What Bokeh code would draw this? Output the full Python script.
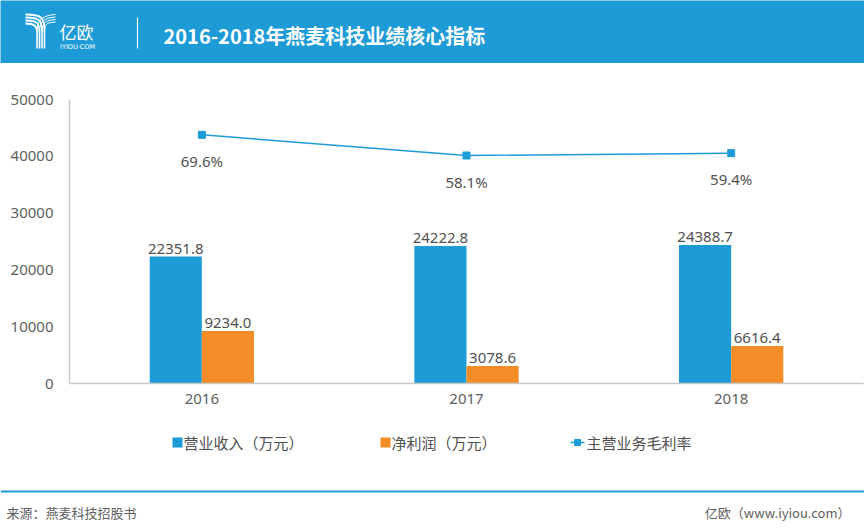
from bokeh.plotting import figure
from bokeh.models import Range1d, FactorRange, ColumnDataSource, FixedTicker, NumeralTickFormatter
from bokeh.layouts import column
from bokeh.transform import dodge
from bokeh.core.properties import value
from bokeh.embed import file_html
from bokeh.resources import INLINE

# ---------------- data ----------------
years = ["2016", "2017", "2018"]
revenue = [22351.8, 24222.8, 24388.7]        # 营业收入（万元）
net_profit = [9234.0, 3078.6, 6616.4]        # 净利润（万元）
gross_margin = [69.6, 58.1, 59.4]            # 主营业务毛利率 (%)
y_ticks = [0, 10000, 20000, 30000, 40000, 50000]
title_text = "2016-2018年燕麦科技业绩核心指标"
series_names = ["营业收入（万元）", "净利润（万元）", "主营业务毛利率"]
source_text = "来源：燕麦科技招股书"
brand_text = "亿欧（www.iyiou.com）"

# ---------------- style ----------------
BLUE = "#1d9bd7"
ORANGE = "#f48d27"
TXT = "#505050"
GREY = "#606060"
NUM_FONT = "Noto Sans"
CJK = "Noto Sans CJK SC"
W = 864


def blank(h, y_top, y_bottom, bg="white"):
    f = figure(width=W, height=h, x_range=Range1d(0, W), y_range=Range1d(y_bottom, y_top),
               output_backend="svg", toolbar_location=None, min_border=0,
               x_axis_type=None, y_axis_type=None, frame_align=False,
               background_fill_color=bg, border_fill_color=bg, outline_line_color=None)
    f.grid.visible = False
    return f


# ---------------- header ----------------
hdr = blank(63, 0, 63, bg=BLUE)
stems = [36.5, 39.0, 41.5, 44.0]
hdr.bezier(x0=[25] * 4, y0=[14 + 3 * i for i in range(4)],
           x1=[stems[3 - i] for i in range(4)], y1=[32] * 4,
           cx0=[stems[3 - i] - 2 for i in range(4)], cy0=[14 + 3 * i for i in range(4)],
           cx1=[stems[3 - i] for i in range(4)], cy1=[17 + 3 * i for i in range(4)],
           line_color="white", line_width=1.8)
hdr.bezier(x0=[55] * 4, y0=[14 + 2.5 * j for j in range(4)],
           x1=stems, y1=[32] * 4,
           cx0=[s + 3 for s in stems], cy0=[15 + 2.5 * j for j in range(4)],
           cx1=stems, cy1=[22] * 4,
           line_color="white", line_width=1.0)
hdr.segment(x0=stems, y0=[32] * 4, x1=stems, y1=[48] * 4, line_color="white", line_width=1.6)
hdr.text(x=[59], y=[31], text=["亿欧"], text_font=value(CJK), text_font_size="17px",
         text_color="white", text_baseline="middle", text_align="left")
hdr.text(x=[59.5], y=[46], text=["IYIOU·COM"], text_font=value("DejaVu Sans"),
         text_font_size="6.5px", text_color="white", text_baseline="middle", text_align="left")
hdr.segment(x0=[137], y0=[17], x1=[137], y1=[48], line_color="white", line_width=1.2)
hdr.text(x=[163], y=[35], text=[title_text], text_font=value(CJK), text_font_style="bold",
         text_font_size="20px", text_color="white", text_baseline="middle", text_align="left")

# ---------------- main chart ----------------
src = ColumnDataSource(dict(
    years=years, revenue=revenue, net_profit=net_profit, gm=gross_margin,
    rev_lbl=[f"{v:.1f}" for v in revenue],
    np_lbl=[f"{v:.1f}" for v in net_profit],
    gm_lbl=[f"{v:.1f}%" for v in gross_margin],
))

p = figure(width=W, height=357, x_range=FactorRange(factors=years, range_padding=0),
           y_range=Range1d(0, 50000), output_backend="svg", toolbar_location=None,
           min_border_left=69, min_border_right=1, min_border_top=36, min_border_bottom=37,
           frame_align=False,
           outline_line_color=None, background_fill_color="white", border_fill_color="white")
p.extra_y_ranges = {"gm": Range1d(-68.5, 89.2)}
p.grid.visible = False

bw = 0.197
p.vbar(x=dodge("years", -bw / 2, range=p.x_range), top="revenue", width=bw, source=src,
       fill_color=BLUE, line_color=None)
p.vbar(x=dodge("years", bw / 2, range=p.x_range), top="net_profit", width=bw, source=src,
       fill_color=ORANGE, line_color=None)

lbl = dict(text_font=value(NUM_FONT), text_font_size="15px", text_color=TXT,
           text_align="center", text_baseline="alphabetic")
p.text(x=dodge("years", -bw / 2, range=p.x_range), y="revenue", text="rev_lbl", source=src,
       y_offset=-8, **lbl)
p.text(x=dodge("years", bw / 2, range=p.x_range), y="net_profit", text="np_lbl", source=src,
       y_offset=-8, **lbl)

p.line(x="years", y="gm", source=src, y_range_name="gm", line_color=BLUE, line_width=1.5)
p.scatter(x="years", y="gm", source=src, y_range_name="gm", marker="square", size=7,
          fill_color=BLUE, line_color=BLUE)
p.text(x="years", y="gm", text="gm_lbl", source=src, y_range_name="gm", y_offset=26, **lbl)

for ax in (p.xaxis[0], p.yaxis[0]):
    ax.axis_line_color = "#c8c8c8"
    ax.axis_line_width = 1.5
    ax.major_tick_line_color = None
    ax.minor_tick_line_color = None
    ax.major_tick_in = 0
    ax.major_tick_out = 0
    ax.minor_tick_in = 0
    ax.minor_tick_out = 0
    ax.major_label_text_font = NUM_FONT
    ax.major_label_text_font_size = "15px"
    ax.major_label_text_color = GREY
p.yaxis.ticker = FixedTicker(ticks=y_ticks)
p.yaxis.formatter = NumeralTickFormatter(format="0")
p.yaxis.major_label_standoff = 16
p.xaxis.major_label_standoff = 10

# ---------------- legend ----------------
lg = blank(45, 420, 465)
lg.scatter(x=[177], y=[442], marker="square", size=10, fill_color=BLUE, line_color=None)
lg.scatter(x=[385], y=[442], marker="square", size=10, fill_color=ORANGE, line_color=None)
lg.line(x=[570, 584], y=[442, 442], line_color=BLUE, line_width=1.5)
lg.scatter(x=[577], y=[442], marker="square", size=6, fill_color=BLUE, line_color=BLUE)
lg.text(x=[183, 391, 586], y=[442, 442, 442], text=series_names, text_font=value(CJK),
        text_font_size="15px", text_color=TXT, text_baseline="middle", text_align="left")

# ---------------- footer ----------------
ft = blank(66, 465, 531)
ft.line(x=[0, W], y=[491, 491], line_color=BLUE, line_width=2)
ft.text(x=[6], y=[512], text=[source_text], text_font=value(CJK), text_font_size="13px",
        text_color=GREY, text_baseline="middle", text_align="left")
ft.text(x=[850], y=[512], text=[brand_text], text_font=value(CJK), text_font_size="13px",
        text_color=GREY, text_baseline="middle", text_align="right")

layout = column(hdr, p, lg, ft, spacing=0)
open("out.html", "w").write(file_html(layout, INLINE))
